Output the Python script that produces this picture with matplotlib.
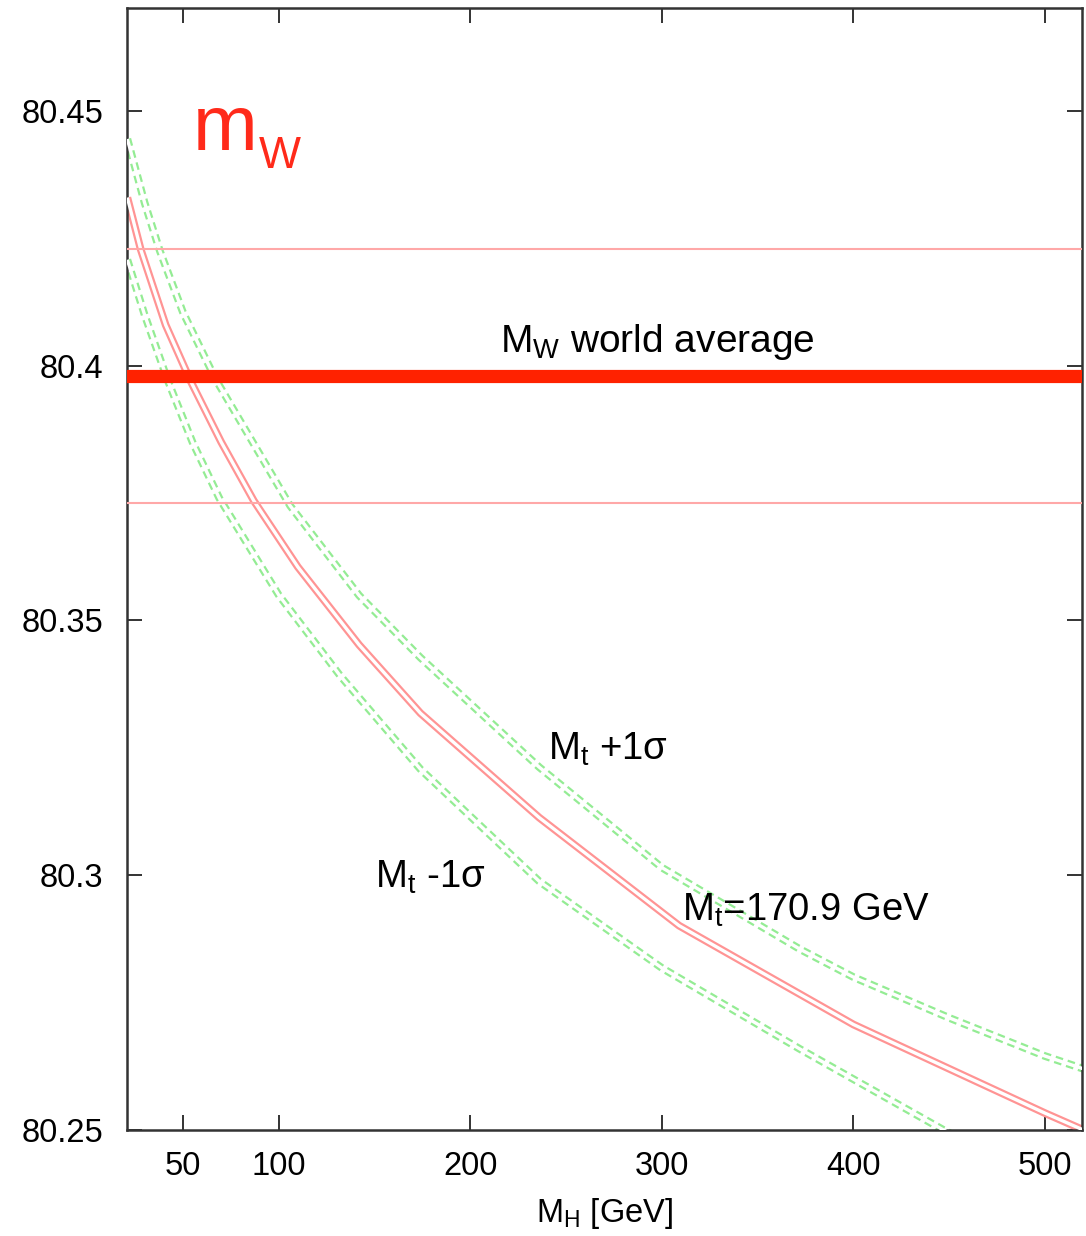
import matplotlib
matplotlib.use("Agg")
import matplotlib.pyplot as plt

# ── data ────────────────────────────────────────────────────────
# central prediction, Mt = 170.9 GeV
mh_central = [21, 28, 41, 54, 70, 87, 110, 142, 174, 236, 309, 400, 500, 520]
mw_central = [80.4330, 80.4228, 80.4080, 80.3970, 80.3850, 80.3735, 80.3605,
              80.3452, 80.3318, 80.3113, 80.2901, 80.2707, 80.2533, 80.2500]

# Mt + 1 sigma
mh_plus = [21, 30, 38, 50, 67, 106, 142, 174, 236, 300, 372, 400, 450, 500, 520]
mw_plus = [80.4445, 80.4320, 80.4225, 80.4105, 80.3974, 80.3725, 80.3549,
           80.3427, 80.3212, 80.3015, 80.2855, 80.2800, 80.2720, 80.2645,
           80.2620]

# Mt - 1 sigma
mh_minus = [21, 30, 42, 55, 69, 100, 132, 174, 236, 300, 372, 447, 520]
mw_minus = [80.4208, 80.4100, 80.3972, 80.3850, 80.3740, 80.3550, 80.3392,
            80.3208, 80.2988, 80.2818, 80.2659, 80.2500, 80.2360]

mw_avg = 80.398
mw_err = 0.025

x_ticks = [50, 100, 200, 300, 400, 500]
y_ticks = [80.25, 80.30, 80.35, 80.40, 80.45]
y_tick_labels = ["80.25", "80.3", "80.35", "80.4", "80.45"]

# ── style ───────────────────────────────────────────────────────
plt.rcParams["font.family"] = ["Liberation Sans", "DejaVu Sans"]
plt.rcParams["mathtext.fontset"] = "custom"
plt.rcParams["mathtext.rm"] = "Liberation Sans"
plt.rcParams["mathtext.it"] = "Liberation Sans"
plt.rcParams["lines.scale_dashes"] = False

pink = "#ff9494"
green = "#94ec94"

fig = plt.figure(figsize=(10.86, 12.36), dpi=100)
ax = fig.add_axes([0.1169, 0.0858, 0.9963 - 0.1169, 0.9935 - 0.0858])


def double_line(x, y, color, dashed=False):
    # a thick coloured stroke with a thinner white stroke on top
    # gives the look of two parallel thin lines
    kw = dict(solid_capstyle="butt", dash_capstyle="butt",
              solid_joinstyle="round")
    if dashed:
        ax.plot(x, y, color=color, lw=5.6, dashes=(5.5, 3.5), **kw, zorder=2)
    else:
        ax.plot(x, y, color=color, lw=5.6, **kw, zorder=2)
    ax.plot(x, y, color="white", lw=2.4, **kw, zorder=3)


double_line(mh_plus, mw_plus, green, dashed=True)
double_line(mh_minus, mw_minus, green, dashed=True)
double_line(mh_central, mw_central, pink)

ax.axhline(mw_avg + mw_err, color="#ffa8a8", lw=1.5, zorder=4)
ax.axhline(mw_avg - mw_err, color="#ffa8a8", lw=1.5, zorder=4)
ax.axhline(mw_avg, color="#ff2200", lw=9.5, zorder=5)

# ── labels ──────────────────────────────────────────────────────
ax.text(215.5, 80.4027, r"$\mathregular{M_W}$ world average", fontsize=28,
        color="black", zorder=6)
ax.text(240.5, 80.3227, r"$\mathregular{M_t}$ +1σ", fontsize=27.5, zorder=6)
ax.text(150.2, 80.2976, r"$\mathregular{M_t}$ -1σ", fontsize=27.5, zorder=6)
ax.text(310.5, 80.2910, r"$\mathregular{M_t}$=170.9 GeV", fontsize=27.5,
        zorder=6)

ax.text(55.2, 80.4424, "m", fontsize=56, color="#ff2a1a", zorder=6)
ax.text(89.5, 80.4388, "W", fontsize=32, color="#ff2a1a", zorder=6)

# ── axes ────────────────────────────────────────────────────────
ax.set_xlim(20.8, 519.3)
ax.set_ylim(80.25, 80.4702)
ax.set_xticks(x_ticks)
ax.set_yticks(y_ticks)
ax.set_yticklabels(y_tick_labels)
ax.tick_params(direction="in", length=11, width=1.4, color="#333333",
               top=True, right=True, labelsize=23.5)
ax.tick_params(axis="y", pad=17)
ax.tick_params(axis="x", pad=15)
for sp in ax.spines.values():
    sp.set_linewidth(1.8)
    sp.set_color("#333333")

ax.set_xlabel(r"$\mathregular{M_H}$ [GeV]", fontsize=23.5, labelpad=10)

fig.savefig("out.png", dpi=100)
